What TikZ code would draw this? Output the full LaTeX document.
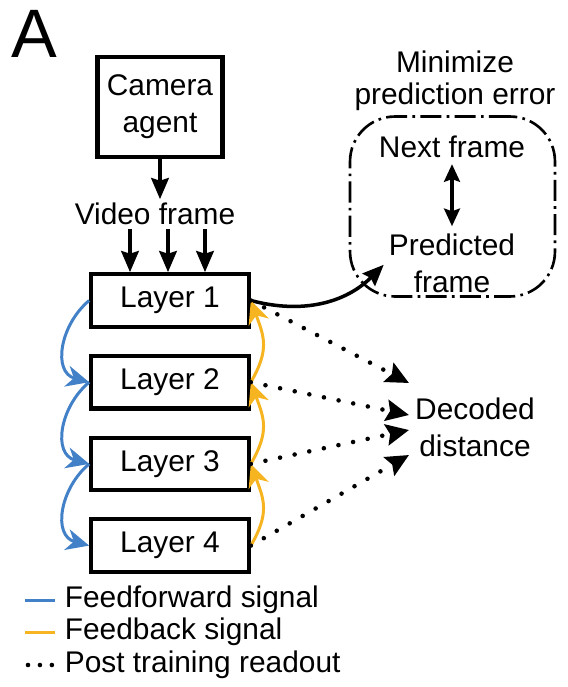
\documentclass[tikz,border=0pt]{standalone}
\usepackage{fontspec}
\setmainfont{Liberation Sans}
\usepackage{xcolor}
\usetikzlibrary{arrows.meta, positioning, calc}

\definecolor{ffblue}{RGB}{66,128,200}
\definecolor{fborange}{RGB}{246,180,32}

\begin{document}
\begin{tikzpicture}[
  x=0.02cm, y=0.02cm,
  font=\fontsize{17}{21}\selectfont,
  node distance=0.5cm,
  box/.style={rectangle, draw=black, line width=2.4pt, text centered, align=center},
  layer/.style={box, minimum width=3.15cm, minimum height=1.05cm},
  arrow/.style={line width=2pt, -{Stealth[length=12pt, width=10pt, inset=1.5pt]}},
  ffarrow/.style={ffblue, line width=1.7pt, -{Stealth[length=13pt, width=12pt, inset=4pt]}},
  fbarrow/.style={fborange, line width=1.7pt, -{Stealth[length=13pt, width=12pt, inset=4pt]}},
  readout/.style={line width=2.6pt, line cap=round, dash pattern=on 0pt off 8.5pt, -{Stealth[length=13pt, width=12pt, inset=2pt]}},
  errbox/.style={rectangle, draw=black, line width=1.5pt, rounded corners=0.9cm, dash pattern=on 12pt off 3pt on 1.5pt off 3pt}
]
\useasboundingbox (0,0) rectangle (568,-687);

\node (panel) at (34,-34) {\fontsize{39}{39}\selectfont A};

% input side
\node (cam) [box, minimum width=2.5cm, minimum height=2.0cm] at (160,-107) {Camera\\agent};
\node (video) [inner sep=2pt] at (155,-214) {Video frame};

% layer stack
\node (l1) [layer] at (170,-300.5) {Layer 1};
\node (l2) [layer, below=of l1] {Layer 2};
\node (l3) [layer, below=of l2] {Layer 3};
\node (l4) [layer, below=of l3] {Layer 4};

% prediction target
\node (err) [errbox, minimum width=4.1cm, minimum height=3.6cm] at (452.5,-206.5) {};
\node (title) [align=center, font=\fontsize{17}{18.5}\selectfont] at (455,-81) {Minimize\\prediction error};
\node (next) at (452,-147) {Next frame};
\node (predf) [align=center, inner sep=4pt] at (452,-263) {Predicted\\frame};
\coordinate (predin) at ($(err.south west)+(35,33)$);

% decoder
\node (dec) [align=center] at (475,-427) {Decoded\\distance};

\draw [arrow] (cam.south) -- (cam.south |- video.north);
\foreach \dx [count=\i] in {-40,-2,35} {
  \coordinate (in\i) at ($(l1.north)+(\dx,0)$);
  \draw [arrow] (in\i |- video.south) -- (in\i);
}
\draw [arrow, {Stealth[length=10pt, width=9pt, inset=1.5pt]}-{Stealth[length=10pt, width=9pt, inset=1.5pt]}] (next) -- (predf);
\draw [arrow] (l1.east) to[out=-15, in=225] (predin);

% feedforward and feedback loops
\draw [ffarrow] (l1.west) to[out=220, in=165, looseness=1.2] (l2.west);
\draw [ffarrow] (l2.west) to[out=220, in=165, looseness=1.2] (l3.west);
\draw [ffarrow] (l3.west) to[out=220, in=165, looseness=1.2] (l4.west);
\draw [fbarrow] (l2.east) to[out=60, in=-70, looseness=1.2] (l1.east);
\draw [fbarrow] (l3.east) to[out=60, in=-70, looseness=1.2] (l2.east);
\draw [fbarrow] (l4.east) to[out=60, in=-70, looseness=1.2] (l3.east);

% readouts
\foreach \dy [count=\i] in {44,12,-3,-28} {
  \coordinate (tip\i) at ($(dec.west)+(0,\dy)$);
  \draw [readout] (l\i.east) -- (tip\i);
}

% legend
\node (lgff) [anchor=west, inner sep=2pt] at (61,-600) {Feedforward signal};
\node (lgfb) [anchor=west, inner sep=2pt] at (61,-632) {Feedback signal};
\node (lgro) [anchor=west, inner sep=2pt] at (61,-665) {Post training readout};
\draw [ffblue, line width=1.7pt] ([xshift=-0.72cm]lgff.west) -- ([xshift=-0.12cm]lgff.west);
\draw [fborange, line width=1.7pt] ([xshift=-0.72cm]lgfb.west) -- ([xshift=-0.12cm]lgfb.west);
\draw [line width=2.6pt, line cap=round, dash pattern=on 0pt off 6.8pt] ([xshift=-0.66cm]lgro.west) -- ([xshift=-0.18cm]lgro.west);
\end{tikzpicture}
\end{document}
